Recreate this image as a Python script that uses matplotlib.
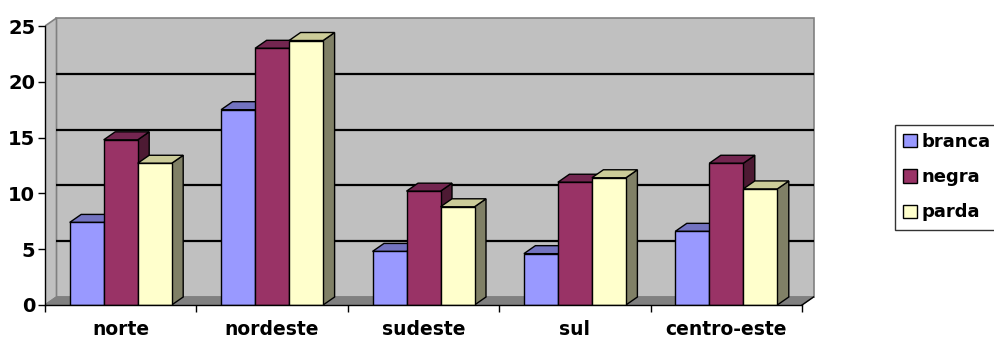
import matplotlib
matplotlib.use("Agg")
import matplotlib.pyplot as plt
from matplotlib.patches import Polygon, Patch

categories = ["norte", "nordeste", "sudeste", "sul", "centro-este"]
series_names = ["branca", "negra", "parda"]
branca = [7.4, 17.5, 4.8, 4.6, 6.6]
negra = [14.8, 23.0, 10.2, 11.0, 12.7]
parda = [12.7, 23.7, 8.8, 11.4, 10.4]
yticks = [0, 5, 10, 15, 20, 25]

series = [branca, negra, parda]
front_cols = ["#9999FF", "#993366", "#FFFFCC"]
top_cols = ["#7373C0", "#732650", "#CCCC99"]
side_cols = ["#5C5C99", "#4D1A33", "#808066"]

W, H, DPI = 995, 340, 100
fig = plt.figure(figsize=(W / DPI, H / DPI), dpi=DPI)
fig.patch.set_facecolor("white")

# pixel geometry of front plane
x0px, x1px = 45, 802
y0px, y25px = 305, 26
px_per_cat = (x1px - x0px) / len(categories)
px_per_val = (y0px - y25px) / 25.0
xmax, ymax = 5.1, 25.9
ax = fig.add_axes([x0px / W, (H - y0px) / H, xmax * px_per_cat / W, ymax * px_per_val / H])
ax.set_xlim(0, xmax)
ax.set_ylim(0, ymax)
ax.set_facecolor("none")

dx = 11.5 / px_per_cat
dy = 8.0 / px_per_val
n = len(categories)
top = yticks[-1]

# walls and floor
ax.add_patch(Polygon([(dx, dy), (n + dx, dy), (n + dx, top + dy), (dx, top + dy)],
                     closed=True, facecolor="#C0C0C0", edgecolor="#808080", lw=1.2, zorder=1))
ax.add_patch(Polygon([(0, 0), (dx, dy), (dx, top + dy), (0, top)],
                     closed=True, facecolor="#C0C0C0", edgecolor="#808080", lw=1.2, zorder=1))
for v in yticks[1:-1]:
    ax.plot([dx, n + dx], [v + dy, v + dy], color="black", lw=1.6, zorder=2, solid_capstyle="butt")
ax.add_patch(Polygon([(0, 0), (n, 0), (n + dx, dy), (dx, dy)],
                     closed=True, facecolor="#808080", edgecolor="#808080", lw=1.0, zorder=2))
ax.plot([n, n + dx], [0, dy], color="black", lw=1.0, zorder=2)

# bars
bw = 34.0 / px_per_cat
off = (1 - 3 * bw) / 2
for i in range(n):
    for j, vals in enumerate(series):
        v = vals[i]
        xl = i + off + j * bw
        xr = xl + bw
        ax.add_patch(Polygon([(xr, 0), (xr + dx, dy), (xr + dx, v + dy), (xr, v)],
                             closed=True, facecolor=side_cols[j], edgecolor="black", lw=1.0, zorder=3))
        ax.add_patch(Polygon([(xl, v), (xr, v), (xr + dx, v + dy), (xl + dx, v + dy)],
                             closed=True, facecolor=top_cols[j], edgecolor="black", lw=1.0, zorder=3))
        ax.add_patch(Polygon([(xl, 0), (xr, 0), (xr, v), (xl, v)],
                             closed=True, facecolor=front_cols[j], edgecolor="black", lw=1.0, zorder=3))

# axes
for s in ["top", "right"]:
    ax.spines[s].set_visible(False)
ax.spines["left"].set_bounds(0, top)
ax.spines["bottom"].set_bounds(0, n)
ax.spines["left"].set_zorder(5)
ax.spines["bottom"].set_zorder(5)
ax.spines["left"].set_linewidth(1.0)
ax.spines["bottom"].set_linewidth(1.0)
ax.set_yticks(yticks)
ax.set_yticklabels([str(t) for t in yticks], fontsize=14, fontweight="bold", family="DejaVu Sans")
ax.tick_params(axis="y", length=5, width=1, pad=2)
ax.set_xticks(range(n + 1))
ax.set_xticklabels([""] * (n + 1))
ax.tick_params(axis="x", which="major", length=5, width=1, direction="out")
ax.set_xticks([i + 0.5 for i in range(n)], minor=True)
ax.set_xticklabels(categories, minor=True, fontsize=13.5, fontweight="bold", family="DejaVu Sans")
ax.tick_params(axis="x", which="minor", length=0, pad=11)

handles = [Patch(facecolor=c, edgecolor="black", lw=1.0) for c in front_cols]
leg = fig.legend(handles, series_names, loc="upper left", bbox_to_anchor=(895 / W, 1 - 125 / H),
                 prop={"size": 13, "weight": "bold", "family": "DejaVu Sans"},
                 frameon=True, fancybox=False, borderpad=0.45, labelspacing=0.95,
                 handlelength=0.75, handleheight=0.75, handletextpad=0.28, borderaxespad=0)
leg.get_frame().set_edgecolor("black")
leg.get_frame().set_linewidth(1.0)

fig.savefig("out.png", dpi=DPI)
